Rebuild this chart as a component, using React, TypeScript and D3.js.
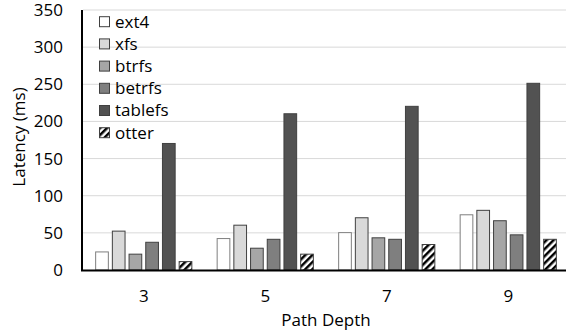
import React, { useEffect, useRef } from "react";
import * as d3 from "d3";

const depths = ["3", "5", "7", "9"];
const seriesNames = ["ext4", "xfs", "btrfs", "betrfs", "tablefs", "otter"];
const ext4 = [25, 43, 51, 75];
const xfs = [53, 61, 71, 81];
const btrfs = [22, 30, 44, 67];
const betrfs = [38, 42, 42, 48];
const tablefs = [171, 211, 221, 252];
const otter = [12, 22, 35, 42];
const yTicks = [0, 50, 100, 150, 200, 250, 300, 350];

const fills = ["#ffffff", "#d9d9d9", "#a6a6a6", "#7f7f7f", "#525252", "url(#hatch)"];
const strokes = ["#7f7f7f", "#404040", "#404040", "#404040", "#404040", "#404040"];

const App = () => {
  const ref = useRef<SVGSVGElement>(null);

  useEffect(() => {
    draw();
  });

  let draw = () => {
    const svg = d3.select(ref.current);
    svg.selectAll("*").remove();

    const width = 566;
    const font = "'Open Sans', 'Noto Sans', sans-serif";
    const fs = 17;
    const values = [ext4, xfs, btrfs, betrfs, tablefs, otter];

    const defs = svg.append("defs");
    const pat = defs
      .append("pattern")
      .attr("id", "hatch")
      .attr("patternUnits", "userSpaceOnUse")
      .attr("width", 5)
      .attr("height", 5)
      .attr("patternTransform", "rotate(45)");
    pat.append("rect").attr("width", 5).attr("height", 5).attr("fill", "#fff");
    pat.append("rect").attr("width", 2.5).attr("height", 5).attr("fill", "#000");

    const x = d3.scaleBand().domain(depths).range([83, 569]).paddingInner(0.2).paddingOuter(0.1);
    const xs = d3.scaleBand().domain(seriesNames).range([0, x.bandwidth()]).paddingInner(0.18);
    const y = d3.scaleLinear().domain([0, 350]).range([270, 10]);

    // grid
    svg
      .selectAll(".grid")
      .data(yTicks.filter((t) => t > 0))
      .enter()
      .append("line")
      .attr("x1", 83)
      .attr("x2", width)
      .attr("y1", (d) => y(d))
      .attr("y2", (d) => y(d))
      .attr("stroke", "#d9d9d9")
      .attr("stroke-width", 1);

    // bars
    seriesNames.forEach((s, i) => {
      svg
        .append("g")
        .selectAll("rect")
        .data(values[i])
        .enter()
        .append("rect")
        .attr("x", (d, j) => x(depths[j])! + xs(s)! + 0.5)
        .attr("y", (d) => y(d) + 0.5)
        .attr("width", xs.bandwidth() - 1)
        .attr("height", (d) => y(0) - y(d) - 0.5)
        .attr("fill", fills[i])
        .attr("stroke", strokes[i])
        .attr("stroke-width", 1);
    });

    // axes
    svg.append("line").attr("x1", 82).attr("x2", 82).attr("y1", 10).attr("y2", 271)
      .attr("stroke", "#000").attr("stroke-width", 2);
    svg.append("line").attr("x1", 81).attr("x2", width).attr("y1", 270.5).attr("y2", 270.5)
      .attr("stroke", "#000").attr("stroke-width", 2);

    svg
      .selectAll(".ytick")
      .data(yTicks)
      .enter()
      .append("text")
      .attr("x", 63)
      .attr("y", (d) => y(d))
      .attr("dy", "0.35em")
      .attr("text-anchor", "end")
      .attr("font-family", font)
      .attr("font-size", fs)
      .attr("fill", "#000")
      .text((d) => d);

    svg
      .selectAll(".xtick")
      .data(depths)
      .enter()
      .append("text")
      .attr("x", (d) => x(d)! + x.bandwidth() / 2)
      .attr("y", 302)
      .attr("text-anchor", "middle")
      .attr("font-family", font)
      .attr("font-size", fs)
      .attr("fill", "#000")
      .text((d) => d);

    svg.append("text")
      .attr("x", 326)
      .attr("y", 326)
      .attr("text-anchor", "middle")
      .attr("font-family", font)
      .attr("font-size", fs)
      .text("Path Depth");

    svg.append("text")
      .attr("transform", "translate(25,137) rotate(-90)")
      .attr("text-anchor", "middle")
      .attr("font-family", font)
      .attr("font-size", fs)
      .text("Latency (ms)");

    // legend
    const lg = svg.append("g");
    seriesNames.forEach((s, i) => {
      const ly = 21.7 + i * 22.2;
      lg.append("rect")
        .attr("x", 99.5)
        .attr("y", ly - 5)
        .attr("width", 10)
        .attr("height", 10)
        .attr("fill", fills[i])
        .attr("stroke", "#404040")
        .attr("stroke-width", 1);
      lg.append("text")
        .attr("x", 115)
        .attr("y", ly)
        .attr("dy", "0.35em")
        .attr("font-family", font)
        .attr("font-size", fs)
        .text(s);
    });
  };

  return (
    <svg
      ref={ref}
      width={566}
      height={331}
      style={{ position: "absolute", left: 0, top: 0, background: "#fff" }}
    />
  );
};

export default App;
